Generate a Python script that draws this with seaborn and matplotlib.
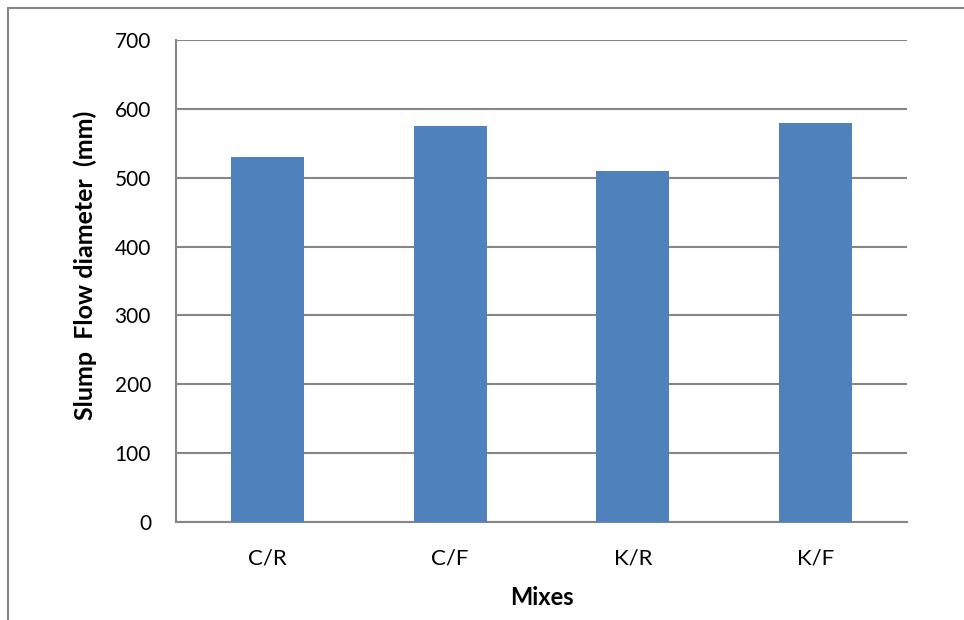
import matplotlib
matplotlib.use("Agg")
import matplotlib.pyplot as plt
import seaborn as sns
import pandas as pd
from matplotlib.lines import Line2D

mixes = ["C/R", "C/F", "K/R", "K/F"]
slump_flow = [530, 575, 510, 580]
y_ticks = [0, 100, 200, 300, 400, 500, 600, 700]

sns.set_theme(style="white")
plt.rcParams["font.family"] = ["Lato", "DejaVu Sans"]

df = pd.DataFrame({"Mix": mixes, "Flow": slump_flow})

fig = plt.figure(figsize=(9.64, 6.2), dpi=100)
ax = fig.add_axes([176 / 964, 1 - 522 / 620, (907 - 176) / 964, (522 - 40) / 620])

sns.barplot(data=df, x="Mix", y="Flow", color="#4F81BD", width=0.4,
            saturation=1, linewidth=0, ax=ax, zorder=3)

ax.set_ylim(0, 700)
ax.set_xlim(-0.5, 3.5)
ax.set_yticks(y_ticks)
ax.set_yticklabels([str(t) for t in y_ticks], fontsize=15, color="#000000")
ax.tick_params(axis="x", labelsize=16, labelcolor="#000000", pad=19)
ax.tick_params(axis="y", pad=18)
ax.tick_params(length=0)

ax.grid(axis="y", color="#868686", linewidth=1.5, zorder=0)
ax.set_axisbelow(True)
for side in ["top", "right"]:
    ax.spines[side].set_visible(False)
for side in ["left", "bottom"]:
    ax.spines[side].set_color("#868686")
    ax.spines[side].set_linewidth(1.5)

ax.set_xlabel("Mixes", fontsize=17, fontweight="bold", labelpad=13, color="#000000")
ax.set_ylabel("Slump  Flow diameter  (mm)", fontsize=18, fontweight="bold",
              color="#000000")
ax.yaxis.set_label_coords(-0.108, 0.533)

# chart area outline
fig.add_artist(Line2D([8 / 964, 1], [1 - 8 / 620, 1 - 8 / 620],
                      transform=fig.transFigure, color="#868686", linewidth=1.5))
fig.add_artist(Line2D([8 / 964, 8 / 964], [0, 1 - 8 / 620],
                      transform=fig.transFigure, color="#868686", linewidth=1.5))

fig.savefig("out.png", dpi=100)
